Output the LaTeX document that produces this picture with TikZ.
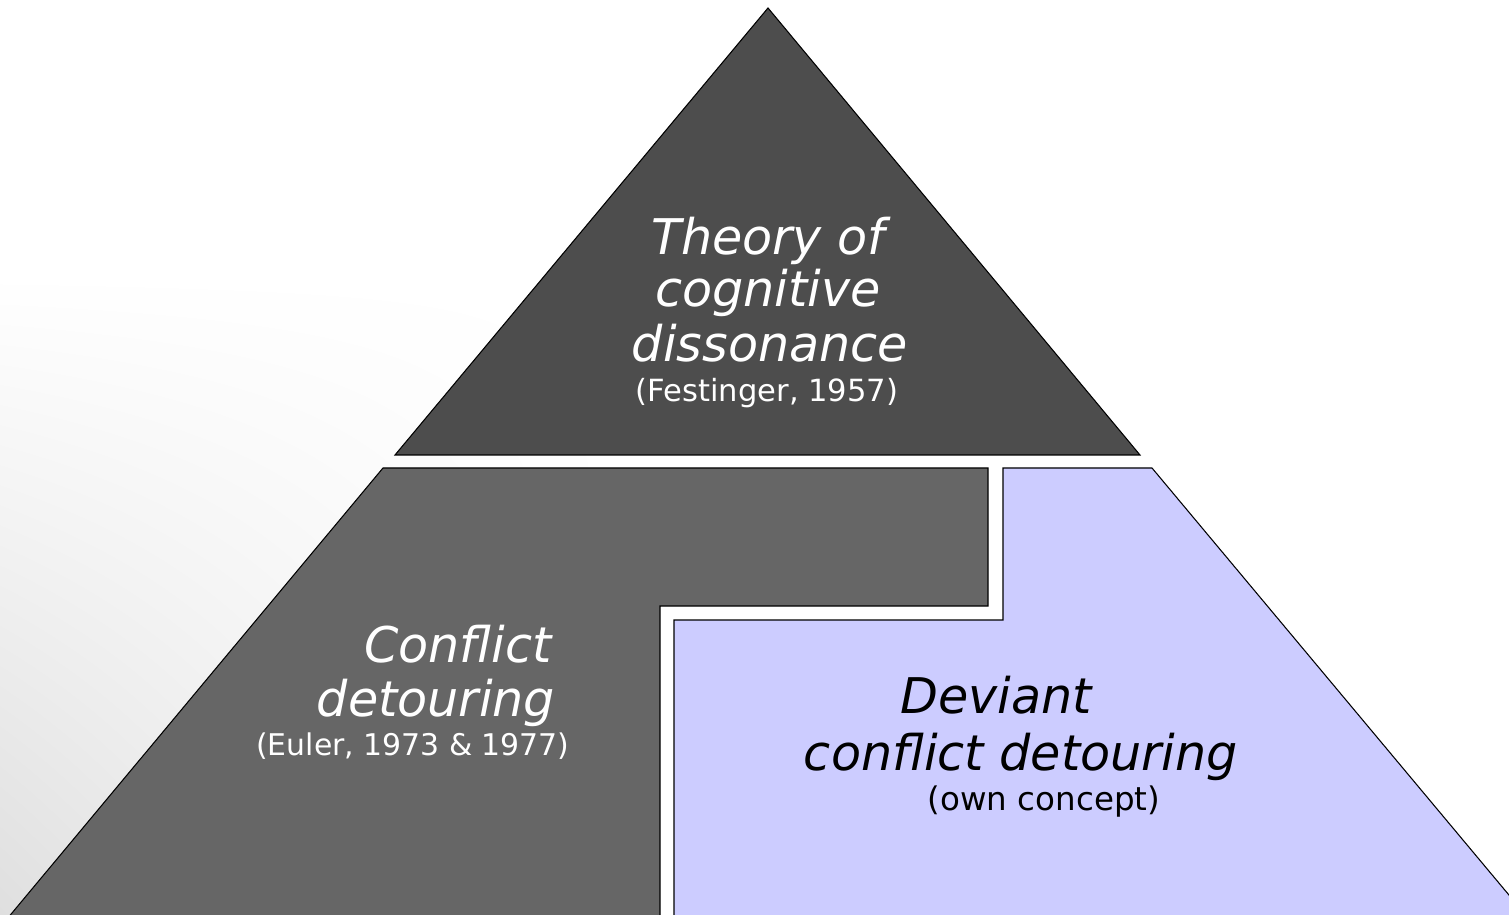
\documentclass[tikz,border=0pt]{standalone}
\usepackage{fontspec}
\setmainfont{DejaVu Sans}
\usetikzlibrary{shadings}
\definecolor{topgray}{HTML}{4D4D4D}
\definecolor{midgray}{HTML}{666666}
\definecolor{lavender}{HTML}{CCCCFF}
\begin{document}
\begin{tikzpicture}[x=0.02cm,y=0.02cm,
  block/.style={draw=black, line width=0.6pt, line join=miter},
  bigtxt/.style={font=\fontsize{28}{30}\selectfont\itshape, inner sep=0pt, anchor=base},
  smalltxt/.style={font=\fontsize{17.4}{20}\selectfont, inner sep=0pt, anchor=base}]
\useasboundingbox (0,0) rectangle (1509,914);
\clip (0,0) rectangle (1509,914);
\fill[white] (0,0) rectangle (1509,914);
\shade[lower left=gray!25, upper left=white, upper right=white, lower right=white] (0,0) rectangle (620,640);
% top triangle
\filldraw[block, fill=topgray] (768,906) -- (395,459) -- (1140,459) -- cycle;
% left block
\filldraw[block, fill=midgray] (383,446) -- (988,446) -- (988,308) -- (660,308) -- (660,-5) -- (7,-5) -- cycle;
% right block
\filldraw[block, fill=lavender] (1003,446) -- (1152,446) -- (1529,-5) -- (674,-5) -- (674,294) -- (1003,294) -- cycle;
% top texts
\node[bigtxt, white] (t1) at (768,659) {Theory of};
\node[bigtxt, white] (t2) at (768,607) {cognitive};
\node[bigtxt, white] (t3) at (770,552) {dissonance};
\node[smalltxt, white] (t4) at (767,512) {(Festinger, 1957)};
% left texts
\node[bigtxt, white] (l1) at (458,252) {Conflict};
\node[bigtxt, white] (l2) at (436,198) {detouring};
\node[smalltxt, white, font=\fontsize{17}{20}\selectfont] (l3) at (413,159) {(Euler, 1973 \& 1977)};
% right texts
\node[bigtxt, black] (r1) at (996,201) {Deviant};
\node[bigtxt, black] (r2) at (1021,144) {conflict detouring};
\node[smalltxt, black, font=\fontsize{18.5}{20}\selectfont] (r3) at (1044,104) {(own concept)};
\end{tikzpicture}
\end{document}
